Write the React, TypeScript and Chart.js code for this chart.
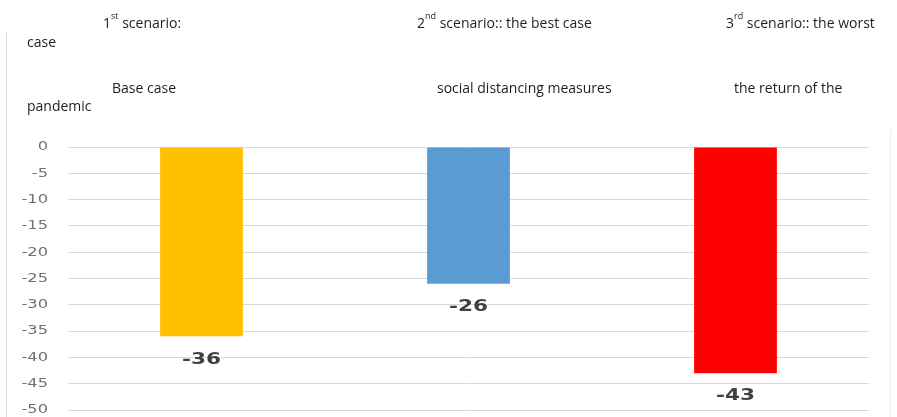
import React, { useEffect, useRef } from "react";
import { Chart, registerables } from "chart.js";

Chart.register(...registerables);

// Scenario categories and projected change (%)
const scenarios = ["Base case", "Best case: social distancing measures", "Worst case: return of the pandemic"];
const changeValues = [-36, -26, -43];
const barColors = ["#FFC000", "#5B9BD5", "#FF0000"];

// Value axis range
const axisMin = -50;
const axisMax = 0;
const axisStep = 5;

const W = 897;
const H = 417;

// Tick labels drawn slightly widened, right-aligned next to the plot
const tickLabelPlugin = {
  id: "tickLabels",
  afterDraw(chart: any) {
    const { ctx } = chart;
    const y = chart.scales.y;
    ctx.save();
    ctx.fillStyle = "#707070";
    ctx.font = '13px "DejaVu Sans"';
    ctx.textAlign = "right";
    ctx.textBaseline = "middle";
    y.ticks.forEach((t: any) => {
      const py = y.getPixelForValue(t.value);
      ctx.save();
      ctx.translate(48, py);
      ctx.scale(1.25, 1);
      ctx.fillText(String(t.value), 0, 0);
      ctx.restore();
    });
    ctx.restore();
  },
};

// Value labels under each bar end
const valueLabelPlugin = {
  id: "valueLabels",
  afterDatasetsDraw(chart: any) {
    const { ctx } = chart;
    const meta = chart.getDatasetMeta(0);
    const data = chart.data.datasets[0].data as number[];
    ctx.save();
    ctx.fillStyle = "#404040";
    ctx.font = 'bold 16px "DejaVu Sans"';
    ctx.textAlign = "center";
    ctx.textBaseline = "middle";
    meta.data.forEach((bar: any, i: number) => {
      ctx.save();
      ctx.translate(bar.x, bar.y + 23);
      ctx.scale(1.35, 1);
      ctx.fillText(String(data[i]), 0, 0);
      ctx.restore();
    });
    ctx.restore();
  },
};

const textStyle: React.CSSProperties = {
  position: "absolute",
  fontFamily: '"Open Sans", sans-serif',
  fontSize: 14,
  lineHeight: "19px",
  color: "#1e1e1e",
  whiteSpace: "nowrap",
};

const supStyle: React.CSSProperties = {
  fontSize: 9,
  lineHeight: 0,
  verticalAlign: "9px",
};

function Label({ x, baseline, children }: { x: number; baseline: number; children: React.ReactNode }) {
  return <div style={{ ...textStyle, left: x, top: baseline - 15 }}>{children}</div>;
}

export default function App() {
  const canvasRef = useRef<HTMLCanvasElement | null>(null);

  useEffect(() => {
    if (!canvasRef.current) return;
    const chart = new Chart(canvasRef.current, {
      type: "bar",
      data: {
        labels: scenarios,
        datasets: [
          {
            data: changeValues,
            backgroundColor: barColors,
            borderWidth: 0,
            categoryPercentage: 1,
            barPercentage: 0.31,
          },
        ],
      },
      options: {
        responsive: false,
        animation: false,
        layout: { padding: { top: 147, bottom: 7, left: 0, right: 28 } },
        plugins: {
          legend: { display: false },
          tooltip: { enabled: false },
          title: { display: false },
        },
        scales: {
          x: { display: false },
          y: {
            min: axisMin,
            max: axisMax,
            ticks: { stepSize: axisStep, display: false },
            grid: { color: "#d9d9d9", lineWidth: 1, drawTicks: false },
            border: { display: false },
            afterFit(scale: any) {
              scale.width = 68;
            },
          },
        },
      },
      plugins: [tickLabelPlugin, valueLabelPlugin],
    });
    return () => chart.destroy();
  }, []);

  return (
    <div style={{ position: "absolute", left: 0, top: 0, width: W, height: H, background: "#fff", overflow: "hidden" }}>
      <div style={{ position: "absolute", left: 6, top: 32, width: 1, height: H - 32, background: "#d6d6d6" }} />
      <div style={{ position: "absolute", left: 890, top: 130, width: 1, height: H - 130, background: "#eeeeee" }} />
      <canvas ref={canvasRef} width={W} height={H} style={{ position: "absolute", left: 0, top: 0 }} />
      <Label x={103} baseline={28}>
        1<sup style={supStyle}>st</sup> scenario:
      </Label>
      <Label x={417} baseline={28}>
        2<sup style={supStyle}>nd</sup> scenario:: the best case
      </Label>
      <Label x={726} baseline={28}>
        3<sup style={supStyle}>rd</sup> scenario:: the worst
      </Label>
      <Label x={27} baseline={47}>case</Label>
      <Label x={112} baseline={93}>Base case</Label>
      <Label x={437} baseline={93}>social distancing measures</Label>
      <Label x={734} baseline={93}>the return of the</Label>
      <Label x={27} baseline={111}>pandemic</Label>
    </div>
  );
}
